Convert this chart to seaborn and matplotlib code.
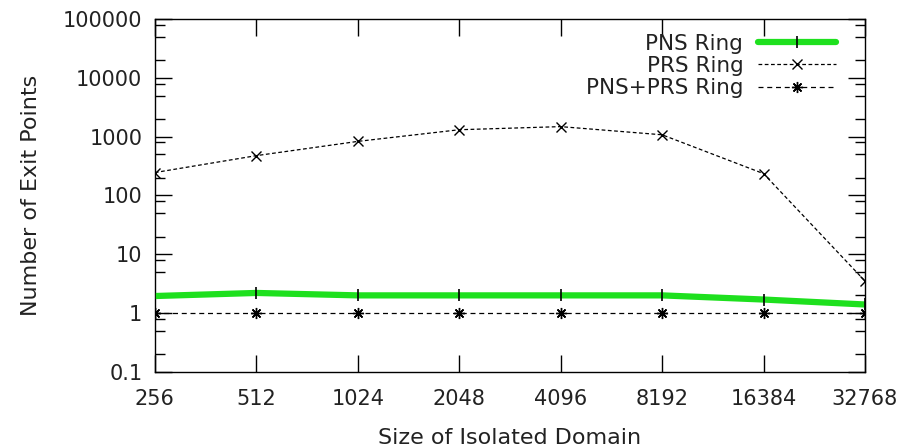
import matplotlib
matplotlib.use("Agg")
import matplotlib.pyplot as plt
import matplotlib.ticker as mticker
import pandas as pd
import seaborn as sns

# domain sizes (x) and exit point counts per ring type
sizes = [256, 512, 1024, 2048, 4096, 8192, 16384, 32768]
pns_ring = [1.95, 2.2, 2.0, 2.0, 2.0, 2.0, 1.7, 1.4]
prs_ring = [245, 475, 830, 1310, 1480, 1075, 235, 3.5]
pns_prs_ring = [1, 1, 1, 1, 1, 1, 1, 1]
y_ticks = [0.1, 1, 10, 100, 1000, 10000, 100000]

df = pd.DataFrame({
    "size": sizes,
    "PNS Ring": pns_ring,
    "PRS Ring": prs_ring,
    "PNS+PRS Ring": pns_prs_ring,
})

sns.set_style("ticks")
plt.rcParams["font.family"] = ["DejaVu Sans"]
plt.rcParams["font.size"] = 15

fig = plt.figure(figsize=(9.11, 4.47), dpi=100)
ax = fig.add_axes([0.170, 0.168, 0.7795, 0.7895])

sns.lineplot(data=df, x="size", y="PNS Ring", ax=ax, color="#1ee01e",
             linewidth=4.5, solid_capstyle="round", marker="|",
             markersize=8, markeredgecolor="black", markeredgewidth=1.2,
             label="PNS Ring", zorder=3)
sns.lineplot(data=df, x="size", y="PRS Ring", ax=ax, color="black",
             linewidth=0.9, linestyle=(0, (3, 2)), marker="x",
             markersize=7, markeredgecolor="black", markeredgewidth=1.0,
             label="PRS Ring", zorder=2)
sns.lineplot(data=df, x="size", y="PNS+PRS Ring", ax=ax, color="black",
             linewidth=0.9, linestyle=(0, (4, 3)), marker=(8, 2, 0),
             markersize=8, markeredgecolor="black", markeredgewidth=1.0,
             label="PNS+PRS Ring", zorder=2)

ax.set_xscale("log", base=2)
ax.set_yscale("log")
ax.set_xlim(256, 32768)
ax.set_ylim(0.1, 100000)

ax.xaxis.set_major_locator(mticker.FixedLocator(sizes))
ax.xaxis.set_major_formatter(mticker.FixedFormatter([str(s) for s in sizes]))
ax.xaxis.set_minor_locator(mticker.NullLocator())
ax.yaxis.set_major_locator(mticker.FixedLocator(y_ticks))
ax.yaxis.set_major_formatter(mticker.FuncFormatter(lambda v, p: "%g" % v))
ax.yaxis.set_minor_locator(mticker.LogLocator(base=10, subs=[2, 5, 8]))
ax.yaxis.set_minor_formatter(mticker.NullFormatter())

ax.tick_params(which="both", direction="in", top=True, right=True,
               color="black", width=1.0)
ax.tick_params(which="major", length=12, pad=9, labelsize=15,
               labelcolor="#222222")
ax.tick_params(axis="x", which="major", pad=12)
ax.tick_params(which="minor", length=7)
for sp in ax.spines.values():
    sp.set_color("black")
    sp.set_linewidth(1.0)

ax.set_xlabel("Size of Isolated Domain", fontsize=16, color="#222222",
              labelpad=14)
ax.set_ylabel("Number of Exit Points", fontsize=16, color="#222222",
              labelpad=16)

# markerfirst=False right-aligns rows, so texts end next to the samples
leg = ax.legend(loc="upper right", bbox_to_anchor=(0.959, 0.958),
                frameon=False, markerfirst=False, borderpad=0,
                borderaxespad=0, handlelength=3.6, handletextpad=0.7,
                labelspacing=0.1, fontsize=15.5)
for t in leg.get_texts():
    t.set_color("#222222")

fig.savefig("out.png", dpi=100)
